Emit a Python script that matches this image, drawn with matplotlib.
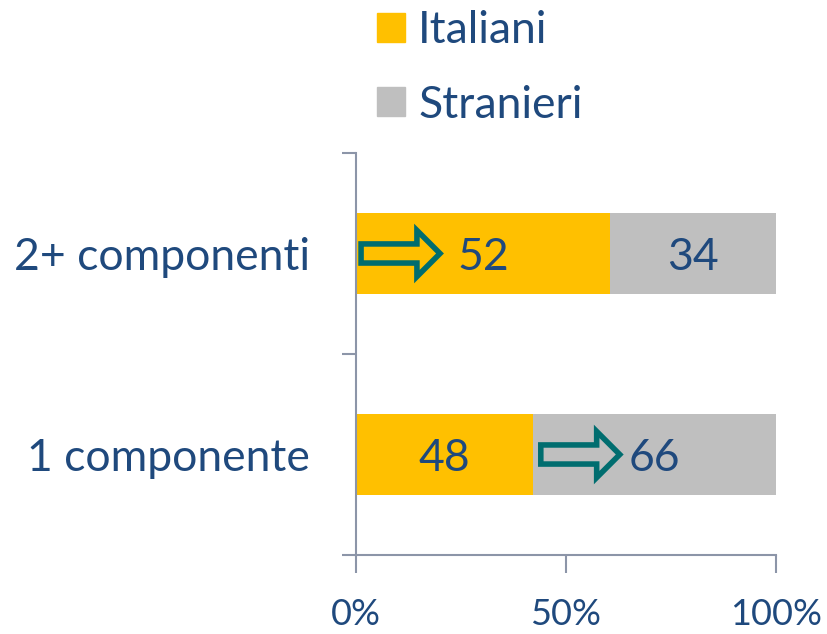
import numpy as np
import matplotlib
matplotlib.use('Agg')
from matplotlib import pyplot as plt
from matplotlib.patches import FancyArrow, Patch

plt.rcParams['font.family'] = ['Lato', 'DejaVu Sans']

categorie = ['1 componente', '2+ componenti']
italiani = [48, 52]
stranieri = [66, 34]
xtick_lab = ['0%', '50%', '100%']

txt_col = '#1F497D'
ax_col = '#8C95A8'
col_it = '#FFC000'
col_st = '#BFBFBF'
arrow_col = '#006D6F'

it = np.array(italiani, dtype=float)
st = np.array(stranieri, dtype=float)
tot = it + st
p_it = it / tot
p_st = st / tot

fig = plt.figure(figsize=(8.27, 6.34), dpi=100)
ax = fig.add_axes([0.4305, 0.1246, 0.5078, 0.6341])

y = np.arange(len(categorie))
ax.barh(y, p_it, height=0.4, color=col_it, label='Italiani')
ax.barh(y, p_st, left=p_it, height=0.4, color=col_st, label='Stranieri')

for i in range(len(categorie)):
    ax.text(p_it[i] / 2, y[i] - 0.02, str(italiani[i]),
            ha='center', va='center', fontsize=32, color=txt_col)
    ax.text(p_it[i] + p_st[i] / 2, y[i] - 0.02, str(stranieri[i]),
            ha='center', va='center', fontsize=32, color=txt_col)

# frecce
for x0, x1, yy in [(0.012, 0.200, 1), (0.440, 0.628, 0)]:
    ax.add_patch(FancyArrow(x0, yy, x1 - x0, 0, width=0.095, head_width=0.23,
                            head_length=0.055, length_includes_head=True,
                            fill=False, edgecolor=arrow_col, linewidth=4,
                            joinstyle='miter'))

ax.set_xlim(0, 1)
ax.set_ylim(-0.5, 1.5)
ax.set_xticks([0, 0.5, 1])
ax.set_xticklabels(xtick_lab)
ax.set_yticks(y)
ax.set_yticklabels(categorie)
ax.set_yticks([-0.5, 0.5, 1.5], minor=True)
ax.tick_params(axis='y', which='major', length=0, pad=33, labelsize=32, labelcolor=txt_col)
ax.tick_params(axis='y', which='minor', length=10, width=1.5, color=ax_col, direction='out')
ax.tick_params(axis='x', length=13, width=1.5, color=ax_col, pad=18,
               labelsize=26, labelcolor=txt_col)
for s in ['top', 'right']:
    ax.spines[s].set_visible(False)
for s in ['left', 'bottom']:
    ax.spines[s].set_color(ax_col)
    ax.spines[s].set_linewidth(1.5)
ax.spines['left'].set_bounds(-0.5, 1.5)

handles = [Patch(color=col_it), Patch(color=col_st)]
leg = fig.legend(handles, ['Italiani', 'Stranieri'], loc='upper left',
                 bbox_to_anchor=(0.408, 1.047), frameon=False, fontsize=32,
                 handlelength=0.62, handleheight=0.62, handletextpad=0.3,
                 labelspacing=0.75)
for t in leg.get_texts():
    t.set_color(txt_col)

plt.savefig('out.png', dpi=100)
